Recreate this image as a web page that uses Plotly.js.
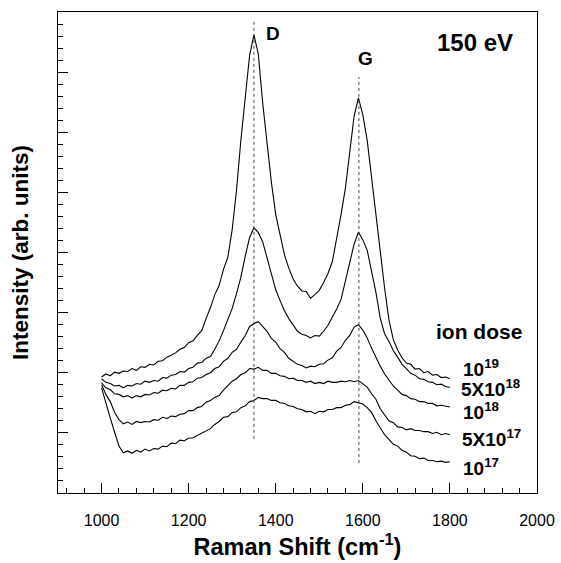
<!DOCTYPE html>
<html>
<head>
<meta charset="utf-8">
<script src="https://cdn.plot.ly/plotly-3.0.1.min.js"></script>
<style>html,body{margin:0;padding:0;background:#fff;}#chart{width:561px;height:563px;}</style>
</head>
<body>
<div id="chart"></div>
<script>
// Raman shift (cm^-1)
const ramanShift = [1000,1010,1020,1030,1040,1050,1060,1070,1080,1090,1100,1110,1120,1130,1140,1150,1160,1170,1180,1190,
  1200,1210,1220,1230,1240,1250,1260,1270,1280,1290,1300,1310,1320,1330,1340,1350,1360,1370,1380,1390,
  1400,1410,1420,1430,1440,1450,1460,1470,1480,1490,1500,1510,1520,1530,1540,1550,1560,1570,1580,1590,
  1600,1610,1620,1630,1640,1650,1660,1670,1680,1690,1700,1710,1720,1730,1740,1750,1760,1770,1780,1790,1800];

// Intensity (arb. units, offset spectra)
const dose1e19 = [1.93,1.98,1.95,2.01,1.99,2.03,2.02,2.07,2.04,2.10,2.09,2.14,2.13,2.19,2.20,2.26,2.29,2.33,2.39,2.42,
  2.50,2.53,2.62,2.70,2.90,3.08,3.30,3.45,3.72,3.92,4.38,5.04,5.87,6.56,7.28,7.62,7.30,6.49,5.79,5.17,
  4.63,4.29,3.96,3.74,3.56,3.44,3.36,3.35,3.24,3.30,3.37,3.50,3.65,3.85,4.22,4.63,5.07,5.71,6.27,6.57,
  6.29,5.87,5.24,4.66,4.04,3.41,2.88,2.55,2.38,2.25,2.16,2.14,2.06,2.07,2.00,2.02,1.96,1.97,1.92,1.93,1.90];

const dose5e18 = [1.90,1.84,1.82,1.78,1.79,1.75,1.79,1.78,1.82,1.81,1.86,1.84,1.87,1.86,1.92,1.91,1.96,1.97,2.02,2.01,
  2.07,2.09,2.16,2.17,2.24,2.27,2.39,2.53,2.70,2.87,3.07,3.32,3.59,3.94,4.25,4.41,4.33,4.18,3.91,3.64,
  3.38,3.20,3.03,2.90,2.79,2.69,2.64,2.62,2.58,2.62,2.61,2.69,2.79,2.92,3.06,3.22,3.51,3.84,4.14,4.34,
  4.21,4.04,3.71,3.34,2.91,2.65,2.52,2.37,2.26,2.14,2.07,1.99,1.96,1.90,1.89,1.85,1.84,1.80,1.81,1.77,1.76];

const dose1e18 = [1.83,1.75,1.72,1.65,1.64,1.60,1.62,1.58,1.62,1.60,1.64,1.63,1.67,1.66,1.71,1.70,1.74,1.73,1.79,1.79,
  1.84,1.85,1.91,1.92,1.97,2.00,2.07,2.10,2.19,2.24,2.34,2.39,2.51,2.62,2.77,2.82,2.85,2.77,2.69,2.57,
  2.51,2.40,2.34,2.24,2.19,2.14,2.12,2.08,2.11,2.10,2.14,2.15,2.21,2.25,2.36,2.42,2.54,2.62,2.76,2.80,
  2.71,2.58,2.41,2.25,2.11,1.98,1.88,1.78,1.71,1.64,1.62,1.57,1.56,1.52,1.52,1.49,1.49,1.45,1.46,1.44,1.43];

const dose5e17 = [1.80,1.64,1.52,1.34,1.22,1.15,1.18,1.14,1.19,1.17,1.19,1.18,1.22,1.21,1.26,1.24,1.28,1.27,1.31,1.32,
  1.37,1.37,1.42,1.44,1.51,1.54,1.59,1.62,1.71,1.78,1.86,1.90,1.97,2.00,2.07,2.06,2.09,2.04,2.04,1.99,
  1.99,1.95,1.94,1.90,1.91,1.87,1.87,1.84,1.86,1.82,1.84,1.82,1.86,1.84,1.84,1.86,1.85,1.87,1.85,1.87,
  1.81,1.76,1.65,1.56,1.40,1.31,1.20,1.17,1.10,1.09,1.05,1.07,1.04,1.04,1.02,1.02,0.99,1.01,0.97,0.99,0.97];

const dose1e17 = [1.75,1.48,1.25,1.01,0.78,0.67,0.70,0.66,0.71,0.68,0.73,0.70,0.74,0.73,0.78,0.77,0.83,0.82,0.88,0.87,
  0.91,0.92,0.96,0.99,1.04,1.07,1.14,1.19,1.26,1.27,1.34,1.35,1.42,1.45,1.52,1.54,1.59,1.57,1.57,1.54,
  1.54,1.50,1.49,1.45,1.44,1.40,1.39,1.35,1.36,1.32,1.36,1.35,1.39,1.39,1.42,1.42,1.46,1.47,1.52,1.50,
  1.48,1.42,1.34,1.20,1.09,0.97,0.89,0.81,0.78,0.71,0.68,0.62,0.61,0.57,0.58,0.54,0.54,0.52,0.53,0.51,0.52];

// Band positions (cm^-1) and dotted marker extents
const bandNames = ["D", "G"];
const bandShift = [1350, 1591];
const bandTop = [7.87, 6.92];
const bandBottom = [0.90, 0.50];

const doseNames = ["10<sup>19</sup>", "5X10<sup>18</sup>", "10<sup>18</sup>", "5X10<sup>17</sup>", "10<sup>17</sup>"];
const series = [dose1e19, dose5e18, dose1e18, dose5e17, dose1e17];

const traces = series.map((ys, i) => ({
  x: ramanShift, y: ys, type: 'scatter', mode: 'lines',
  name: doseNames[i], line: {color: '#000', width: 1.1}, hoverinfo: 'skip'
}));
bandShift.forEach((b, i) => {
  traces.push({x: [b, b], y: [bandBottom[i], bandTop[i]], type: 'scatter', mode: 'lines',
    name: bandNames[i] + ' band', line: {color: '#444', width: 1, dash: 'dot'}, hoverinfo: 'skip'});
});

const boldFont = (s) => ({family: 'Liberation Sans, Arial, sans-serif', size: s, color: '#000', weight: 'bold'});

const annotations = [
  {x: 1393, y: 7.65, text: '<b>D</b>', font: boldFont(19)},
  {x: 1606, y: 7.22, text: '<b>G</b>', font: boldFont(19)},
  {x: 1857, y: 7.49, text: '<b>150 eV</b>', font: boldFont(24)},
  {x: 1866, y: 2.68, text: '<b>ion dose</b>', font: boldFont(21)},
  {x: 1826, y: 2.08, text: '<b>' + doseNames[0] + '</b>', xanchor: 'left', font: boldFont(19)},
  {x: 1821, y: 1.75, text: '<b>' + doseNames[1] + '</b>', xanchor: 'left', font: boldFont(19)},
  {x: 1826, y: 1.37, text: '<b>' + doseNames[2] + '</b>', xanchor: 'left', font: boldFont(19)},
  {x: 1823, y: 0.91, text: '<b>' + doseNames[3] + '</b>', xanchor: 'left', font: boldFont(19)},
  {x: 1826, y: 0.44, text: '<b>' + doseNames[4] + '</b>', xanchor: 'left', font: boldFont(19)}
].map(a => Object.assign({xref: 'x', yref: 'y', showarrow: false, xanchor: 'center', yanchor: 'middle'}, a));

const layout = {
  width: 561, height: 563,
  margin: {l: 58, r: 24, t: 12, b: 70},
  paper_bgcolor: '#fff', plot_bgcolor: '#fff',
  showlegend: false,
  font: {family: 'Liberation Sans, Arial, sans-serif', color: '#000'},
  xaxis: {
    range: [900, 2000], tick0: 1000, dtick: 200, ticks: 'inside', ticklen: 10, tickwidth: 1, tickcolor: '#000',
    minor: {dtick: 40, tick0: 1000, ticks: 'inside', ticklen: 5, tickwidth: 1, tickcolor: '#000'},
    showgrid: false, zeroline: false, showline: true, linecolor: '#000', linewidth: 1, mirror: true,
    tickfont: {size: 16, color: '#000'}, ticklabelstandoff: 13,
    title: {text: '<b>Raman Shift (cm<sup>-1</sup>)</b>', font: boldFont(23.5), standoff: 10}
  },
  yaxis: {
    range: [0, 8], dtick: 1, ticks: 'inside', ticklen: 10, tickwidth: 1, tickcolor: '#000',
    minor: {dtick: 0.2, ticks: 'inside', ticklen: 5, tickwidth: 1, tickcolor: '#000'},
    showticklabels: false, showgrid: false, zeroline: false, showline: true, linecolor: '#000', linewidth: 1, mirror: true,
    title: {text: '<b>Intensity (arb. units)</b>', font: boldFont(22.5), standoff: 22}
  },
  annotations: annotations
};

Plotly.newPlot('chart', traces, layout, {staticPlot: true, displayModeBar: false});
</script>
</body>
</html>
